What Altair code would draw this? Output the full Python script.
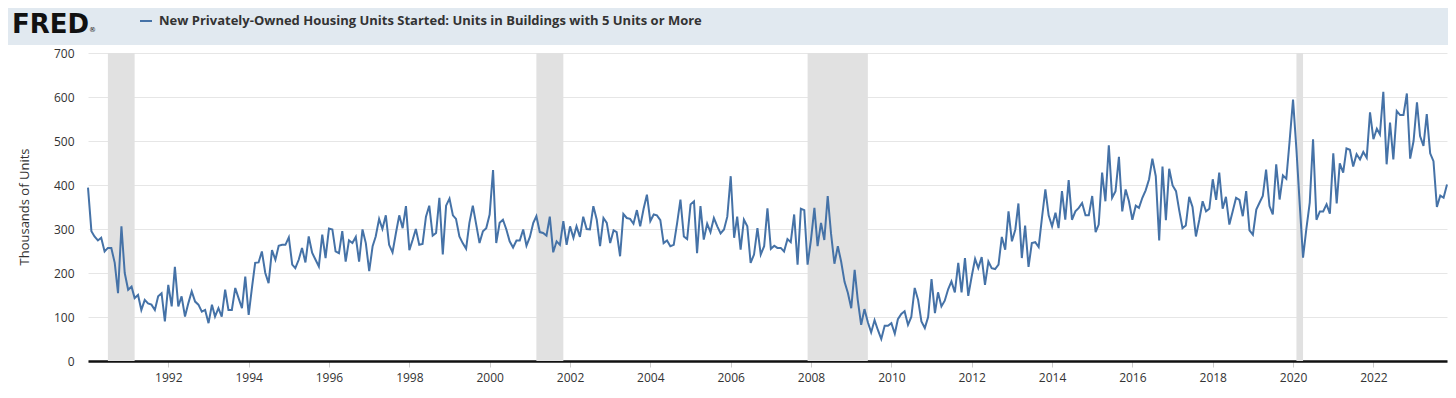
import altair as alt
import pandas as pd

# Monthly values, thousands of units (seasonally adjusted annual rate)
y1990 = [394, 295, 283, 274, 280, 249, 257, 257, 223, 154, 306, 200]
y1991 = [162, 169, 143, 150, 116, 139, 131, 128, 116, 147, 154, 90]
y1992 = [173, 124, 214, 124, 147, 101, 131, 158, 135, 128, 112, 116]
y1993 = [86, 128, 101, 120, 101, 162, 116, 116, 166, 143, 120, 192]
y1994 = [105, 169, 223, 224, 249, 200, 177, 252, 230, 262, 264, 264]
y1995 = [281, 219, 211, 230, 257, 224, 283, 246, 230, 215, 287, 234]
y1996 = [301, 299, 249, 245, 295, 226, 274, 268, 282, 226, 299, 268]
y1997 = [204, 261, 283, 323, 300, 331, 264, 247, 291, 331, 302, 352]
y1998 = [252, 276, 300, 264, 266, 328, 353, 285, 291, 371, 242, 353]
y1999 = [369, 331, 323, 283, 268, 255, 314, 353, 310, 268, 295, 302]
y2000 = [333, 434, 268, 314, 321, 299, 272, 258, 274, 274, 299, 262]
y2001 = [282, 314, 329, 293, 291, 285, 328, 247, 272, 264, 318, 264]
y2002 = [306, 280, 306, 282, 328, 300, 299, 352, 321, 261, 325, 314]
y2003 = [268, 297, 293, 238, 334, 325, 323, 312, 343, 306, 346, 378]
y2004 = [318, 333, 331, 320, 268, 274, 261, 264, 314, 367, 283, 277]
y2005 = [356, 363, 245, 352, 276, 312, 293, 325, 306, 290, 299, 328]
y2006 = [420, 280, 328, 253, 321, 306, 223, 242, 302, 242, 261, 347]
y2007 = [255, 262, 257, 257, 249, 277, 270, 333, 219, 346, 343, 219]
y2008 = [276, 348, 261, 314, 275, 375, 290, 221, 261, 226, 180, 155]
y2009 = [120, 207, 139, 82, 118, 88, 65, 93, 70, 50, 80, 80]
y2010 = [86, 62, 95, 107, 113, 82, 100, 166, 139, 90, 75, 100]
y2011 = [186, 109, 156, 124, 137, 163, 181, 156, 223, 156, 234, 148]
y2012 = [192, 232, 211, 236, 173, 226, 211, 209, 219, 282, 253, 340]
y2013 = [272, 299, 358, 234, 308, 214, 268, 270, 259, 325, 390, 331]
y2014 = [306, 337, 302, 386, 321, 411, 321, 340, 348, 359, 331, 331]
y2015 = [375, 293, 310, 428, 363, 490, 371, 386, 464, 340, 390, 363]
y2016 = [321, 353, 348, 371, 388, 413, 460, 420, 274, 442, 320, 437]
y2017 = [399, 386, 344, 302, 308, 373, 350, 283, 321, 363, 340, 346]
y2018 = [413, 366, 428, 346, 373, 310, 340, 371, 366, 329, 386, 297]
y2019 = [287, 344, 359, 375, 435, 352, 333, 447, 367, 422, 414, 500]
y2020 = [594, 480, 360, 235, 300, 360, 504, 321, 340, 340, 356, 335]
y2021 = [472, 358, 449, 428, 483, 480, 442, 470, 458, 475, 462, 565]
y2022 = [504, 528, 515, 612, 447, 542, 458, 568, 559, 559, 608, 460]
y2023 = [500, 588, 511, 489, 561, 472, 454, 350, 376, 371, 401]

series = (y1990 + y1991 + y1992 + y1993 + y1994 + y1995 + y1996 + y1997 + y1998 + y1999
          + y2000 + y2001 + y2002 + y2003 + y2004 + y2005 + y2006 + y2007 + y2008 + y2009
          + y2010 + y2011 + y2012 + y2013 + y2014 + y2015 + y2016 + y2017 + y2018 + y2019
          + y2020 + y2021 + y2022 + y2023)

# Recessions (shaded)
rec_start = ["1990-07-01", "2001-03-01", "2007-12-01", "2020-02-01"]
rec_end = ["1991-03-01", "2001-11-01", "2009-06-01", "2020-04-01"]

tick_years = list(range(1992, 2023, 2))
y_ticks = [0, 100, 200, 300, 400, 500, 600, 700]

title_text = "New Privately-Owned Housing Units Started: Units in Buildings with 5 Units or More"
y_title = "Thousands of Units"

dates = pd.date_range("1990-01-01", periods=len(series), freq="MS")
df = pd.DataFrame({"date": dates.strftime("%Y-%m-%d"), "value": series})
rec_df = pd.DataFrame({"start": rec_start, "end": rec_end})
one = pd.DataFrame({"k": [0]})

W, H = 1359, 308
FONT = "Open Sans"
LINE = "#4572a7"
BAND = "#e1e9f0"

x_scale = alt.Scale(type="utc",
                    domain=[alt.DateTime(year=1990, month=1, date=1, utc=True),
                            alt.DateTime(year=int(dates[-1].year), month=int(dates[-1].month), date=1, utc=True)])
y_scale = alt.Scale(domain=[0, 700], nice=False, zero=True)

x_axis = alt.Axis(values=[alt.DateTime(year=yy, month=1, date=1, utc=True) for yy in tick_years],
                  format="%Y", labelFont=FONT, labelFontSize=12, labelColor="#333333",
                  domain=True, domainColor="#111111", domainWidth=2.5,
                  ticks=True, tickColor="#cccccc", tickSize=6, tickWidth=1,
                  labelPadding=5, grid=False, labelFlush=False, title=None)
y_axis = alt.Axis(values=y_ticks, labelFont=FONT, labelFontSize=12, labelColor="#333333",
                  domain=False, ticks=False, labelPadding=14,
                  grid=True, gridColor="#e6e6e6", gridWidth=1, title=None)

# light blue-grey header band
top_band = alt.Chart(one).mark_rect(color=BAND).encode(
    x=alt.value(-80), x2=alt.value(W + 1), y=alt.value(-45), y2=alt.value(-8)
)

rec = alt.Chart(rec_df).mark_rect(color="#e1e1e1").encode(
    x=alt.X("start:T", scale=x_scale, axis=x_axis),
    x2="end:T",
    y=alt.value(0), y2=alt.value(H),
)

line = alt.Chart(df).mark_line(color=LINE, strokeWidth=2).encode(
    x=alt.X("date:T", scale=x_scale, axis=x_axis),
    y=alt.Y("value:Q", scale=y_scale, axis=y_axis),
)

ytitle = alt.Chart(one).mark_text(text=y_title, angle=270, font=FONT, fontSize=13,
                                  color="#333333", align="center", baseline="middle").encode(
    x=alt.value(-63), y=alt.value(H / 2)
)

fred = alt.Chart(one).mark_text(text="FRED", font="DejaVu Sans", fontSize=26, fontWeight="bold",
                                color="#111111", align="left", baseline="alphabetic").encode(
    x=alt.value(-76), y=alt.value(-20)
)

reg = alt.Chart(one).mark_text(text="®", font="DejaVu Sans", fontSize=7,
                               color="#111111", align="left", baseline="alphabetic").encode(
    x=alt.value(1), y=alt.value(-21)
)

swatch = alt.Chart(one).mark_rule(color=LINE, strokeWidth=2).encode(
    x=alt.value(52), x2=alt.value(64), y=alt.value(-32)
)

title = alt.Chart(one).mark_text(text=title_text, font=FONT, fontSize=13, fontWeight="bold",
                                 color="#333333", align="left", baseline="middle").encode(
    x=alt.value(71), y=alt.value(-32)
)

chart = alt.layer(top_band, rec, line, ytitle, fred, reg, swatch, title).properties(
    width=W, height=H,
    padding={"left": 80, "top": 45, "right": 1, "bottom": 29},
    autosize="none",
    background="white",
).configure_view(stroke=None)

chart.save("out.html", embed_options={"renderer": "svg", "actions": False})
